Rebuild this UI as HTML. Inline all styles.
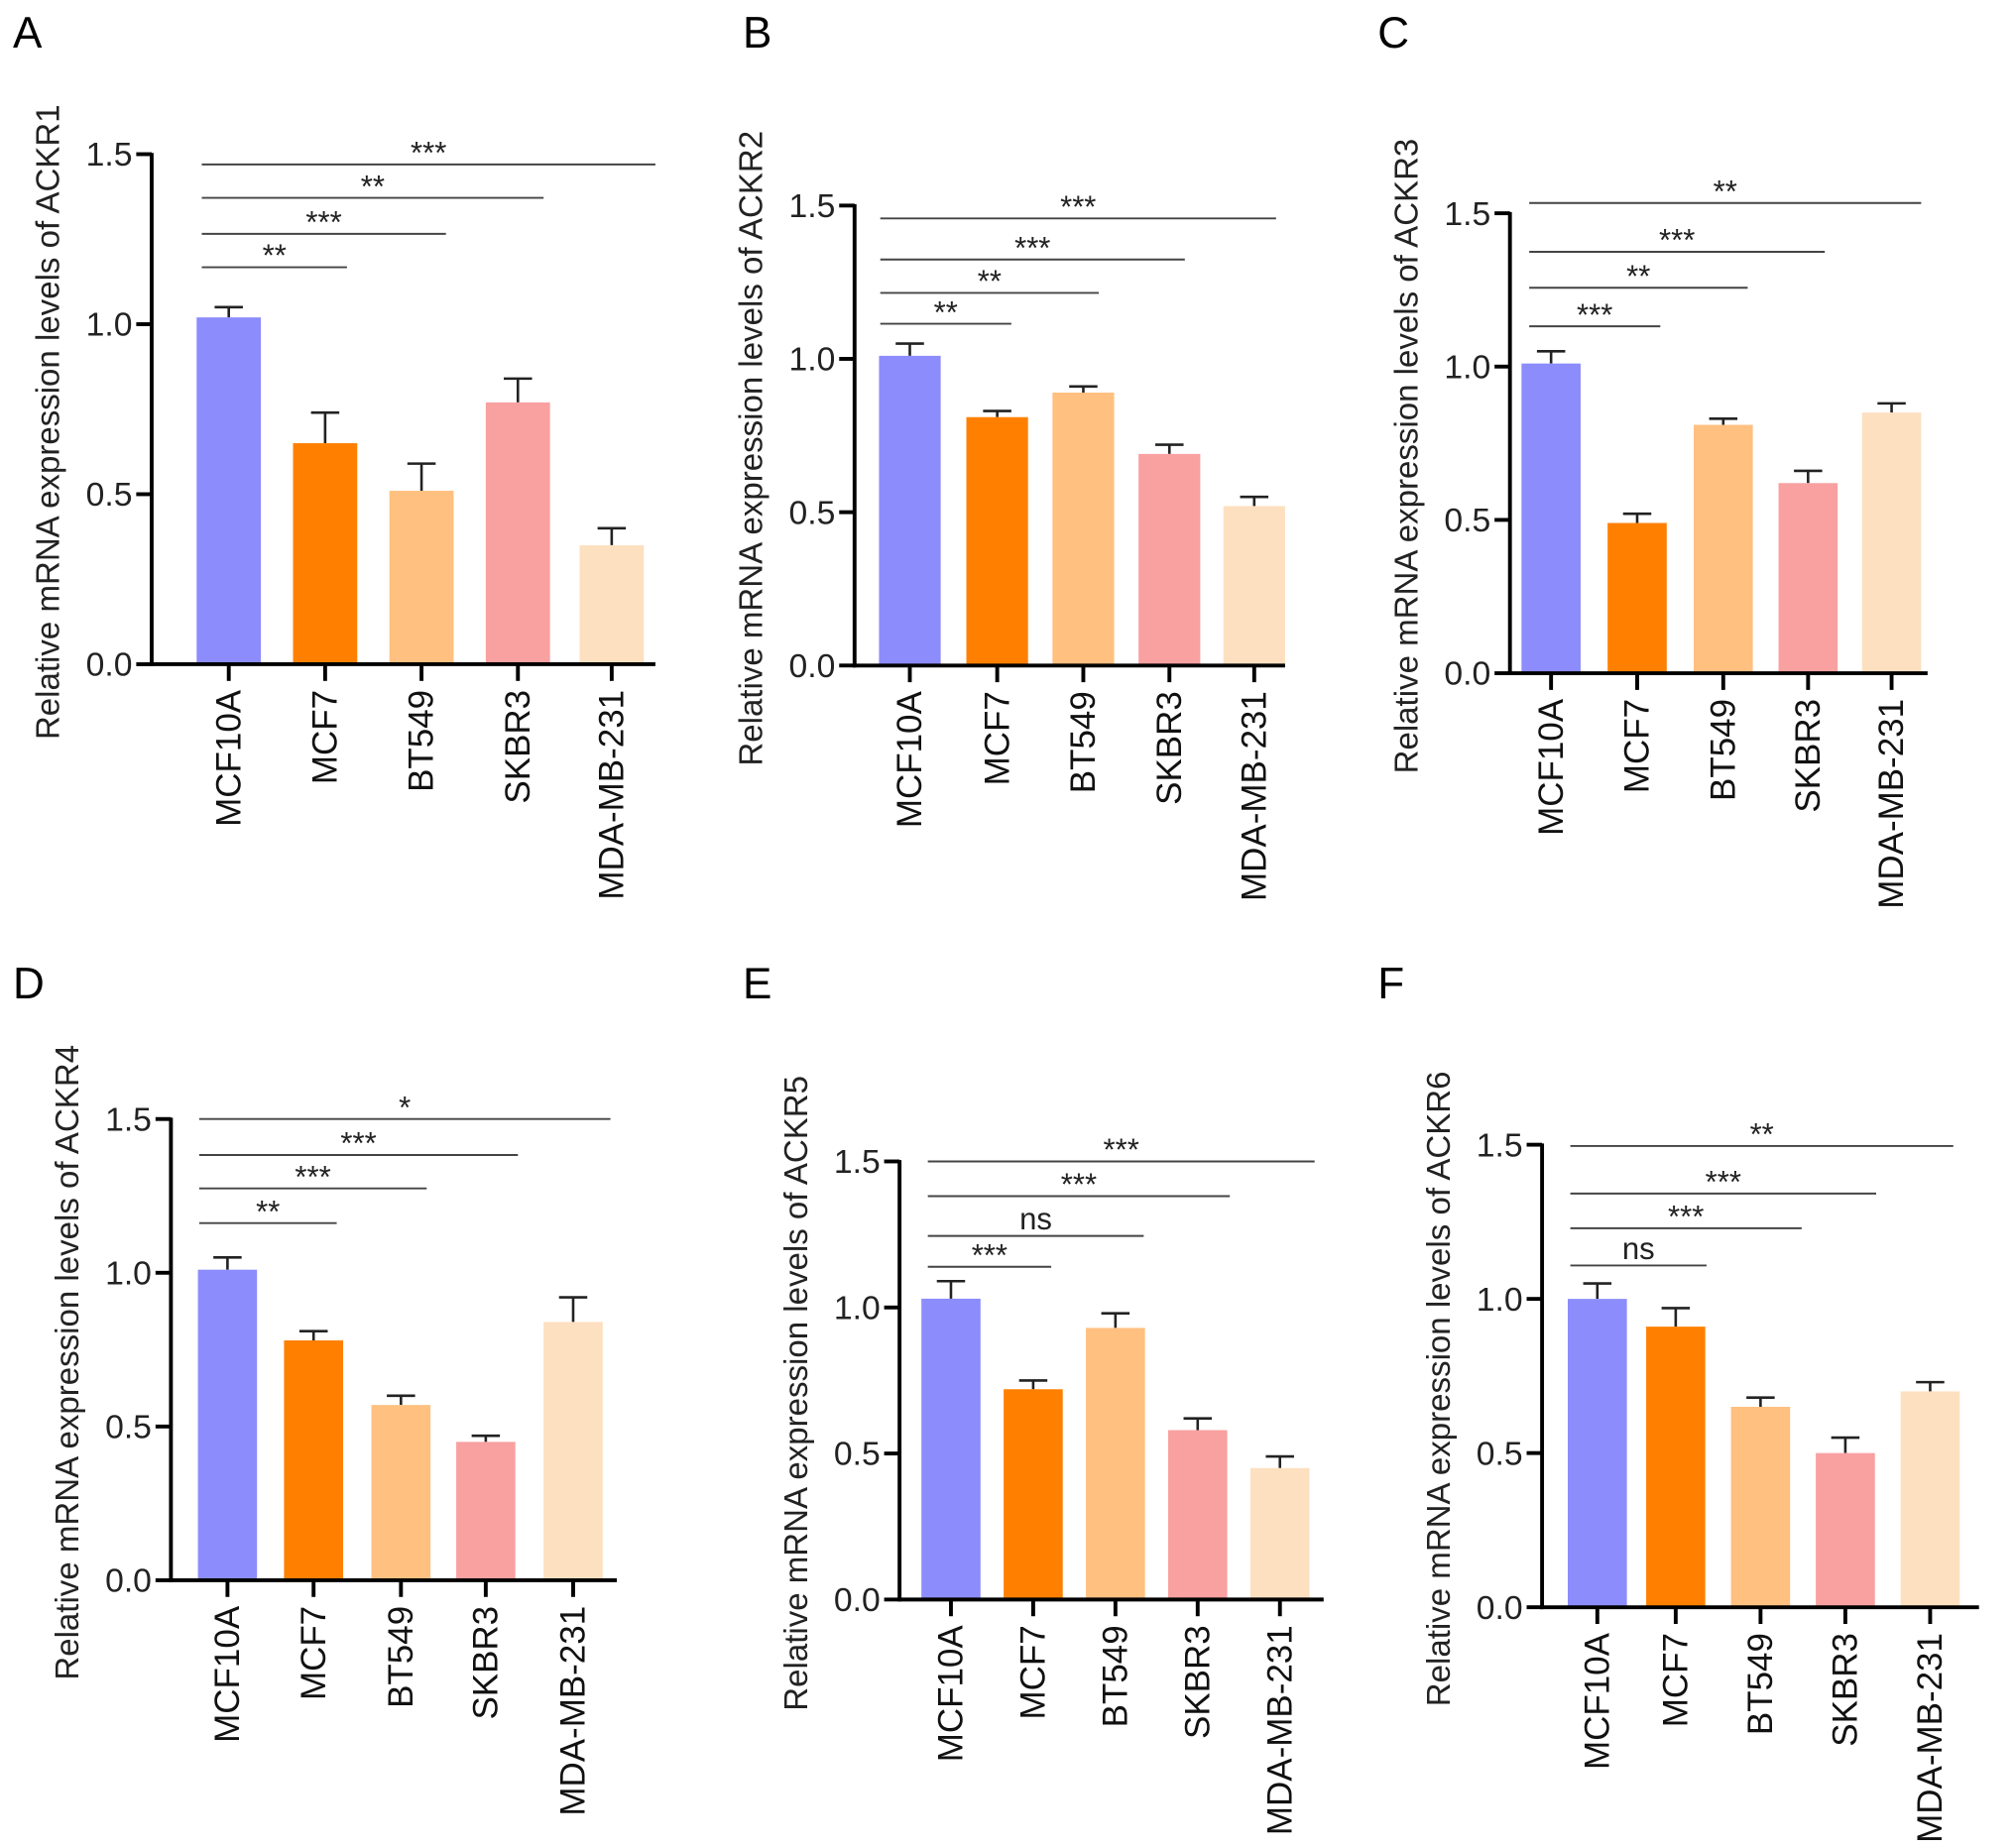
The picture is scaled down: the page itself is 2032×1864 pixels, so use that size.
<!DOCTYPE html>
<html><head><meta charset="utf-8"><style>
html,body{margin:0;padding:0;background:#fff;}
svg{display:block;font-family:"Liberation Sans",Arial,sans-serif;}
</style></head><body>
<svg id="fig" width="2032" height="1864" viewBox="0 0 1568 1438.4" xmlns="http://www.w3.org/2000/svg"></svg>
<script>
const categories = ["MCF10A","MCF7","BT549","SKBR3","MDA-MB-231"];
const colors = ["#8c8cfc","#ff8000","#ffc080","#f9a0a0","#fde0c0"];
const yTicks = [0.0,0.5,1.0,1.5];
const tickLabels = ["0.0","0.5","1.0","1.5"];
const valsA = [1.02,0.65,0.51,0.77,0.35];
const errsA = [0.03,0.09,0.08,0.07,0.05];
const valsB = [1.01,0.81,0.89,0.69,0.52];
const errsB = [0.04,0.02,0.02,0.03,0.03];
const valsC = [1.01,0.49,0.81,0.62,0.85];
const errsC = [0.04,0.03,0.02,0.04,0.03];
const valsD = [1.01,0.78,0.57,0.45,0.84];
const errsD = [0.04,0.03,0.03,0.02,0.08];
const valsE = [1.03,0.72,0.93,0.58,0.45];
const errsE = [0.06,0.03,0.05,0.04,0.04];
const valsF = [1.00,0.91,0.65,0.50,0.70];
const errsF = [0.05,0.06,0.03,0.05,0.03];
const sigA = ["**","***","**","***"];
const sigB = ["**","**","***","***"];
const sigC = ["***","**","***","**"];
const sigD = ["**","***","***","*"];
const sigE = ["***","ns","***","***"];
const sigF = ["ns","***","***","**"];

const panels = [
 {id:"a",letter:"A",lx:10,ly:37,ax:118,y15:120,y0:517,xEnd:510,cx:[178,253,328,403,476],bw:50,gene:"ACKR1",vals:valsA,errs:errsA,sig:sigA,sx:157,sigEnd:[270,347,423,510],sigY:[208,182,154,128]},
 {id:"b",letter:"B",lx:578,ly:37,ax:665,y15:160,y0:518,xEnd:1000,cx:[708,776,843,910,976],bw:48,gene:"ACKR2",vals:valsB,errs:errsB,sig:sigB,sx:685,sigEnd:[787,855,922,993],sigY:[252,228,202,170]},
 {id:"c",letter:"C",lx:1072,ly:37,ax:1175,y15:166,y0:524,xEnd:1500,cx:[1207,1274,1341,1407,1472],bw:46,gene:"ACKR3",vals:valsC,errs:errsC,sig:sigC,sx:1190,sigEnd:[1292,1360,1420,1495],sigY:[254,224,196,158]},
 {id:"d",letter:"D",lx:10,ly:777,ax:133,y15:871,y0:1230,xEnd:480,cx:[177,244,312,378,446],bw:46,gene:"ACKR4",vals:valsD,errs:errsD,sig:sigD,sx:155,sigEnd:[262,332,403,475],sigY:[952,925,899,871]},
 {id:"e",letter:"E",lx:578,ly:777,ax:700,y15:904,y0:1245,xEnd:1030,cx:[740,804,868,932,996],bw:46,gene:"ACKR5",vals:valsE,errs:errsE,sig:sigE,sx:722,sigEnd:[818,890,957,1023],sigY:[986,962,931,904]},
 {id:"f",letter:"F",lx:1072,ly:777,ax:1200,y15:891,y0:1251,xEnd:1540,cx:[1243,1304,1370,1436,1502],bw:46,gene:"ACKR6",vals:valsF,errs:errsF,sig:sigF,sx:1222,sigEnd:[1328,1402,1460,1520],sigY:[985,956,929,892]}
];
const NS="http://www.w3.org/2000/svg";
const svg=document.getElementById("fig");
function mk(tag,attrs,parent,txt){const e=document.createElementNS(NS,tag);for(const k in attrs)e.setAttribute(k,attrs[k]);if(txt!==undefined)e.textContent=txt;parent.appendChild(e);return e;}
panels.forEach(p=>{
  const g=mk("g",{},svg);
  
  
  const y=v=>p.y0-(v/1.5)*(p.y0-p.y15);
  const lt=mk("text",{x:p.lx,y:p.ly,"font-size":34,fill:"#000"},g,p.letter);
  
  
  p.vals.forEach((v,i)=>{
    const top=y(v), te=y(v+p.errs[i]);
    const ln=mk("line",{x1:p.cx[i],x2:p.cx[i],y1:top,y2:te,stroke:"#222","stroke-width":2},g);
    
    
    const cap=mk("line",{x1:p.cx[i]-11,x2:p.cx[i]+11,y1:te,y2:te,stroke:"#222","stroke-width":2},g);
    
    
    const r=mk("rect",{x:p.cx[i]-p.bw/2,y:top,width:p.bw,height:p.y0-top,fill:colors[i]},g);
    
    
  });
  const ya=mk("line",{x1:p.ax,x2:p.ax,y1:p.y15-1,y2:p.y0+1.5,stroke:"#000","stroke-width":3},g);
  
  
  const xa=mk("line",{x1:p.ax-1.5,x2:p.xEnd,y1:p.y0,y2:p.y0,stroke:"#000","stroke-width":3},g);
  
  
  yTicks.forEach((t,i)=>{
    mk("line",{x1:p.ax-12,x2:p.ax,y1:y(t),y2:y(t),stroke:"#000","stroke-width":3},g);
    const tl=mk("text",{x:p.ax-15,y:y(t)+9,"font-size":26,"text-anchor":"end",fill:"#222"},g,tickLabels[i]);
    
    
  });
  categories.forEach((c,i)=>{
    mk("line",{x1:p.cx[i],x2:p.cx[i],y1:p.y0,y2:p.y0+13,stroke:"#000","stroke-width":3},g);
    const cl=mk("text",{x:0,y:0,"font-size":27,"text-anchor":"end",fill:"#111",transform:`translate(${p.cx[i]+9},${p.y0+20}) rotate(-90)`},g,c);
    
    
  });
  const tx=p.ax-72, ty=(p.y15+p.y0)/2+10;
  const yt=mk("text",{x:0,y:0,"font-size":25.5,"text-anchor":"middle",fill:"#222",transform:`translate(${tx},${ty}) rotate(-90)`},g,"Relative mRNA expression levels of "+p.gene);
  
  
  p.sig.forEach((s,i)=>{
    const l=mk("line",{x1:p.sx,x2:p.sigEnd[i],y1:p.sigY[i],y2:p.sigY[i],stroke:"#444","stroke-width":1.5},g);
    
    
    const isNs=s==="ns";
    const st=mk("text",{x:(p.sx+p.sigEnd[i])/2,y:p.sigY[i]-(isNs?5:1),"font-size":24,"text-anchor":"middle",fill:"#222"},g,s);
    
    
  });
});
</script>
</body></html>
